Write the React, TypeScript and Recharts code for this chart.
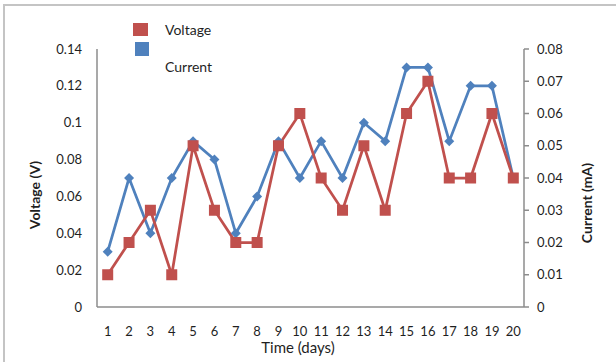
import React from 'react';
import { LineChart, Line, XAxis, YAxis } from 'recharts';

// Days on the horizontal axis
const days = ['1', '2', '3', '4', '5', '6', '7', '8', '9', '10', '11', '12', '13', '14', '15', '16', '17', '18', '19', '20'];
// Red series (Voltage), drawn against the right-hand scale
const voltage = [0.01, 0.02, 0.03, 0.01, 0.05, 0.03, 0.02, 0.02, 0.05, 0.06, 0.04, 0.03, 0.05, 0.03, 0.06, 0.07, 0.04, 0.04, 0.06, 0.04];
// Blue series (Current), drawn against the left-hand scale
const current = [0.03, 0.07, 0.04, 0.07, 0.09, 0.08, 0.04, 0.06, 0.09, 0.07, 0.09, 0.07, 0.1, 0.09, 0.13, 0.13, 0.09, 0.12, 0.12, 0.07];
// Axis ticks
const leftTicks = [0, 0.02, 0.04, 0.06, 0.08, 0.1, 0.12, 0.14];
const rightTicks = [0, 0.01, 0.02, 0.03, 0.04, 0.05, 0.06, 0.07, 0.08];
// Legend entries
const seriesNames = ['Voltage', 'Current'];

const RED = '#C0504D';
const BLUE = '#4F81BD';
const AXIS = '#8c8c8c';
const TEXT = '#1f1f1f';
const FONT = 'Lato, "Open Sans", sans-serif';

const data = days.map((d, i) => ({ day: d, voltage: voltage[i], current: current[i] }));

const fmt = (v: number) => String(Number(v.toFixed(2)));

const SquareDot = (props: any) => {
  const { cx, cy } = props;
  if (cx == null || cy == null) return null;
  const s = 11;
  return <rect x={cx - s / 2} y={cy - s / 2} width={s} height={s} fill={RED} />;
};

const DiamondDot = (props: any) => {
  const { cx, cy } = props;
  if (cx == null || cy == null) return null;
  const r = 5;
  return <path d={`M${cx},${cy - r}L${cx + r},${cy}L${cx},${cy + r}L${cx - r},${cy}Z`} fill={BLUE} />;
};

const LegendBox = () => (
  <div style={{ position: 'absolute', left: 133, top: 23, width: 120, height: 60, fontFamily: FONT, fontSize: 14, color: TEXT }}>
    <div style={{ position: 'absolute', left: 0, top: 0, width: 15, height: 13, background: RED }} />
    <div style={{ position: 'absolute', left: 32, top: -1, lineHeight: '16px' }}>{seriesNames[0]}</div>
    <div style={{ position: 'absolute', left: 2, top: 19, width: 14, height: 14, background: BLUE }} />
    <div style={{ position: 'absolute', left: 32, top: 36, lineHeight: '16px' }}>{seriesNames[1]}</div>
  </div>
);

export default function App() {
  return (
    <div style={{ position: 'absolute', left: 0, top: 0, width: 616, height: 362, overflow: 'hidden', background: '#fff' }}>
      <div
        style={{
          position: 'absolute',
          left: 3,
          top: 4,
          width: 700,
          height: 400,
          borderLeft: '2px solid #c4c4c4',
          borderTop: '2px solid #c4c4c4',
        }}
      />
      <LineChart width={616} height={362} data={data} margin={{ top: 49, right: 0, bottom: 0, left: 0 }}>
        <XAxis
          dataKey="day"
          height={55}
          padding={{ left: 10.7, right: 10.7 }}
          axisLine={{ stroke: AXIS, strokeWidth: 1.5 }}
          tickLine={false}
          tickSize={0}
          tickMargin={20}
          interval={0}
          tick={{ fill: TEXT, fontSize: 13, fontFamily: FONT }}
          label={() => (
            <text x={298} y={353} textAnchor="middle" fill={TEXT} fontSize={15} fontFamily={FONT}>
              Time (days)
            </text>
          )}
        />
        <YAxis
          yAxisId="left"
          orientation="left"
          width={97}
          domain={[0, 0.14]}
          ticks={leftTicks}
          tickFormatter={fmt}
          axisLine={{ stroke: AXIS, strokeWidth: 1.5 }}
          tickLine={false}
          tickSize={0}
          tickMargin={15}
          tick={{ fill: TEXT, fontSize: 13, fontFamily: FONT }}
          label={() => (
            <text
              x={0}
              y={0}
              transform="translate(40,195) rotate(-90)"
              textAnchor="middle"
              fill={TEXT}
              fontSize={14}
              fontWeight="bold"
              fontFamily={FONT}
            >
              Voltage (V)
            </text>
          )}
        />
        <YAxis
          yAxisId="right"
          orientation="right"
          width={92}
          domain={[0, 0.08]}
          ticks={rightTicks}
          tickFormatter={fmt}
          axisLine={{ stroke: AXIS, strokeWidth: 1.5 }}
          tickLine={{ stroke: AXIS, strokeWidth: 1.5 }}
          tickSize={5}
          tickMargin={8}
          tick={{ fill: TEXT, fontSize: 13, fontFamily: FONT, textAnchor: 'start' }}
          label={() => (
            <text
              x={0}
              y={0}
              transform="translate(592,203) rotate(-90)"
              textAnchor="middle"
              fill={TEXT}
              fontSize={14}
              fontWeight="bold"
              fontFamily={FONT}
            >
              Current (mA)
            </text>
          )}
        />
        <Line
          yAxisId="left"
          dataKey="current"
          name="Current"
          stroke={BLUE}
          strokeWidth={2.75}
          dot={<DiamondDot />}
          activeDot={false}
          isAnimationActive={false}
        />
        <Line
          yAxisId="right"
          dataKey="voltage"
          name="Voltage"
          stroke={RED}
          strokeWidth={2.75}
          dot={<SquareDot />}
          activeDot={false}
          isAnimationActive={false}
        />
      </LineChart>
      <LegendBox />
    </div>
  );
}
